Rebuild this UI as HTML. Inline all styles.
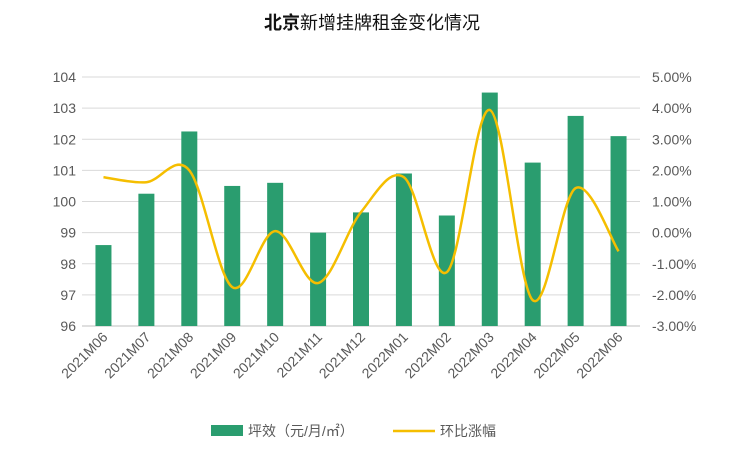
<!DOCTYPE html>
<html><head><meta charset="utf-8"><style>
body{margin:0;background:#fff;}
svg{display:block;font-family:"Liberation Sans","Noto Sans CJK SC",sans-serif;}
</style></head><body>
<svg id="c" width="740" height="466" xmlns="http://www.w3.org/2000/svg">
<text x="372" y="29" text-anchor="middle" font-size="18" fill="#111"><tspan font-weight="bold">北京</tspan>新增挂牌租金变化情况</text>
<g id="grid"></g>
<g id="bars"></g>
<path id="line" fill="none" stroke="#f5be00" stroke-width="2.5"/>
<g id="labels" font-size="14" fill="#595959"></g>
<rect x="211" y="425" width="32" height="11" fill="#2a9d6f"/>
<text x="248" y="436" font-size="14" fill="#595959">坪效（元/月/㎡）</text>
<line x1="393" y1="431" x2="435" y2="431" stroke="#f5be00" stroke-width="2.5"/>
<text x="440" y="436" font-size="14" fill="#595959">环比涨幅</text>
</svg>
<script>
var ns="http://www.w3.org/2000/svg";
function el(p,t,a,txt){var e=document.createElementNS(ns,t);for(var k in a)e.setAttribute(k,a[k]);if(txt!=null)e.textContent=txt;document.getElementById(p).appendChild(e);return e;}
var x0=82,x1=640,yT=77,yB=326,n=13,w=(x1-x0)/n;
for(var i=0;i<=8;i++){var y=yT+(yB-yT)*i/8;
 el('grid','line',{x1:x0,x2:x1,y1:y,y2:y,stroke:i==8?'#bfbfbf':'#d9d9d9','stroke-width':1});
 el('labels','text',{x:76,y:y+5,'text-anchor':'end'},String(104-i));
 el('labels','text',{x:652,y:y+5},(5-i).toFixed(2)+'%');}
var cats=['2021M06','2021M07','2021M08','2021M09','2021M10','2021M11','2021M12','2022M01','2022M02','2022M03','2022M04','2022M05','2022M06'];
var bars=[98.6,100.25,102.25,100.5,100.6,99.0,99.65,100.9,99.55,103.5,101.25,102.75,102.1];
var pct=[1.78,1.62,2.0,-1.75,0.05,-1.62,0.66,1.78,-1.27,3.94,-2.17,1.43,-0.6];
var pts=[];
for(var i=0;i<n;i++){var cx=x0+w*(i+0.5);
 var yb=yT+(104-bars[i])*(yB-yT)/8;
 el('bars','rect',{x:cx-8,y:yb,width:16,height:yB-yb,fill:'#2a9d6f'});
 pts.push([cx,yT+(5-pct[i])*(yB-yT)/8]);
 el('labels','text',{x:cx+5,y:338,'text-anchor':'end',transform:'rotate(-45 '+(cx+5)+' 338)'},cats[i]);}
var d='M'+pts[0][0]+','+pts[0][1];
for(var i=0;i<n-1;i++){var p0=pts[Math.max(0,i-1)],p1=pts[i],p2=pts[i+1],p3=pts[Math.min(n-1,i+2)];
 var s=6;d+=' C'+(p1[0]+(p2[0]-p0[0])/s)+','+(p1[1]+(p2[1]-p0[1])/s)+' '+(p2[0]-(p3[0]-p1[0])/s)+','+(p2[1]-(p3[1]-p1[1])/s)+' '+p2[0]+','+p2[1];}
document.getElementById('line').setAttribute('d',d);
</script>
</body></html>
